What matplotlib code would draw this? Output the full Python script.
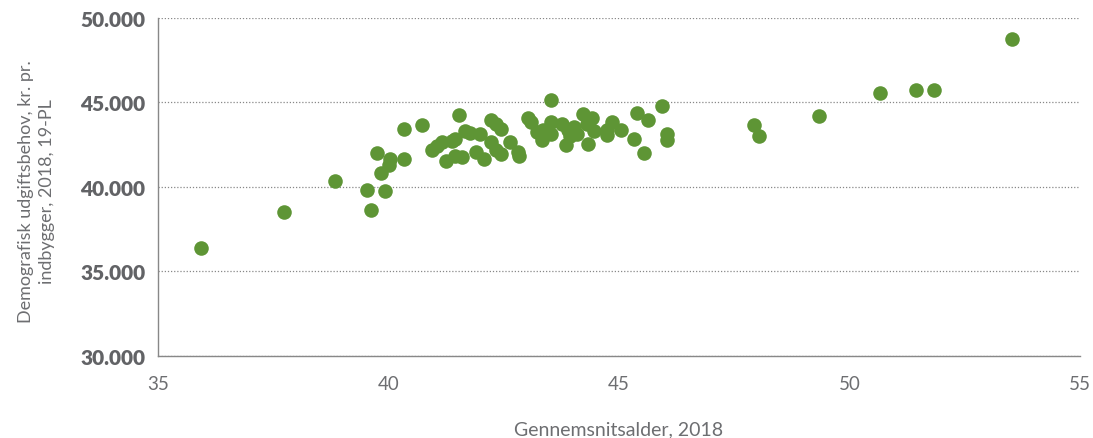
import matplotlib
matplotlib.use("Agg")
import matplotlib.pyplot as plt
from matplotlib.ticker import FuncFormatter

# Gennemsnitsalder (x) og demografisk udgiftsbehov (y)
age = [35.93, 37.73, 38.84, 39.53, 39.62, 39.75, 39.84, 39.92, 40.03, 40.0,
       40.34, 40.34, 40.73, 40.94, 41.05, 41.16, 41.25, 41.38, 41.44, 41.53,
       41.44, 41.6, 41.66, 41.77, 41.9, 41.98, 42.07, 42.22, 42.22, 42.33,
       42.33, 42.44, 42.44, 42.64, 42.81, 42.83, 43.03, 43.09, 43.22, 43.33,
       43.35, 43.52, 43.52, 43.52, 43.76, 43.85, 43.89, 43.94, 44.02, 44.09,
       44.22, 44.3, 44.33, 44.41, 44.46, 44.74, 44.74, 44.85, 45.04, 45.39,
       45.33, 45.54, 45.63, 45.93, 46.04, 46.04, 47.93, 48.04, 49.34, 50.66,
       51.44, 51.83, 53.53]
need = [36390, 38520, 40355, 39822, 38640, 42012, 40828, 39763, 41657, 41300,
        43432, 41657, 43669, 42189, 42426, 42663, 41538, 42722, 41834, 44260,
        42840, 41775, 43313, 43195, 42071, 43136, 41657, 42663, 43964, 43727,
        42189, 41953, 43432, 42663, 42071, 41834, 44083, 43846, 43254, 42781,
        43373, 45148, 43846, 43136, 43727, 42485, 43373, 43018, 43550, 43136,
        44320, 43727, 42544, 44083, 43313, 43373, 43077, 43846, 43373, 44379,
        42840, 42012, 43964, 44793, 43136, 42781, 43669, 43018, 44201, 45562,
        45740, 45740, 48757]

x_ticks = [35, 40, 45, 50, 55]
y_ticks = [30000, 35000, 40000, 45000, 50000]

GREEN = "#5e9535"
GREY = "#6d6e71"

plt.rcParams['font.family'] = ['Lato', 'DejaVu Sans']

fig = plt.figure(figsize=(10.93, 4.39), dpi=100)
ax = fig.add_axes([0.1446, 0.187, 0.988 - 0.1446, 0.957 - 0.187])

ax.scatter(age, need, s=110, color=GREEN, linewidths=0, zorder=3)

ax.set_xlim(35, 55)
ax.set_ylim(30000, 50000)
ax.set_xticks(x_ticks)
ax.set_yticks(y_ticks)
ax.yaxis.set_major_formatter(FuncFormatter(lambda v, p: f"{int(v):,}".replace(",", ".")))

ax.grid(axis='y', linestyle=(0, (1, 1.5)), color="#888888", linewidth=0.9)
ax.set_axisbelow(True)
for side in ['top', 'right']:
    ax.spines[side].set_visible(False)
for side in ['left', 'bottom']:
    ax.spines[side].set_color("#888888")
    ax.spines[side].set_linewidth(1.0)

ax.tick_params(axis='both', length=0)
ax.tick_params(axis='x', labelsize=13.5, labelcolor=GREY, pad=14)
ax.tick_params(axis='y', labelsize=15, labelcolor="#626366", pad=9)
for lbl in ax.get_yticklabels():
    lbl.set_fontweight('heavy')

ax.set_xlabel("Gennemsnitsalder, 2018", fontsize=14, color=GREY, labelpad=20)
ax.set_ylabel("Demografisk udgiftsbehov, kr. pr.\nindbygger, 2018, 19-PL",
              fontsize=13, color=GREY, linespacing=1.4)
ax.yaxis.set_label_coords(-0.112, 0.49)

fig.savefig("out.png", dpi=100)
